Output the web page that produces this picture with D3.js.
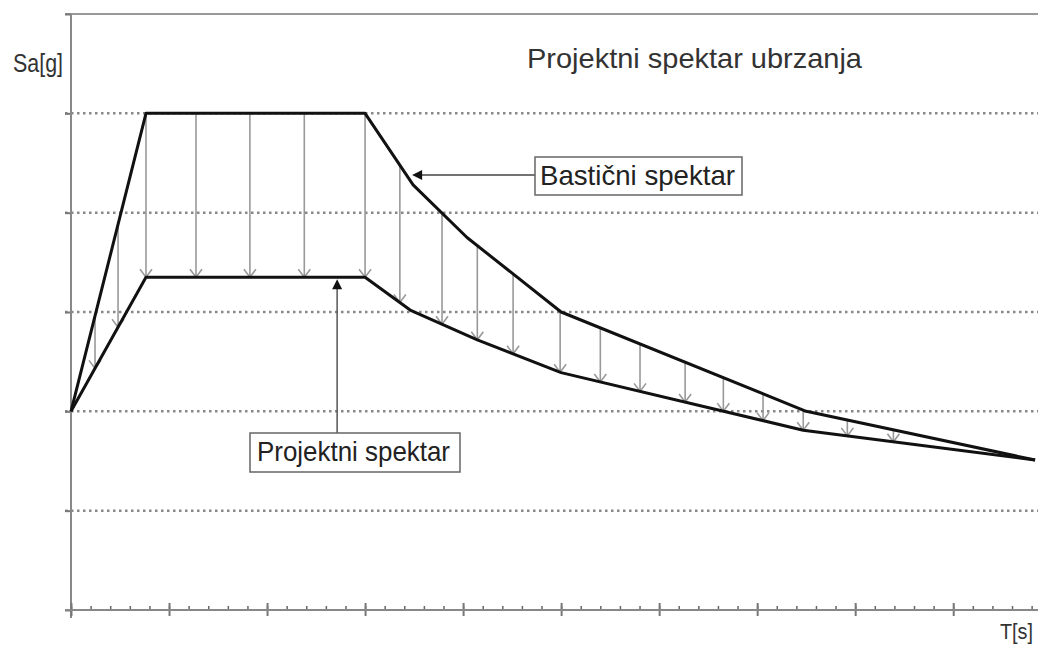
<!DOCTYPE html>
<html>
<head>
<meta charset="utf-8">
<script src="https://cdn.jsdelivr.net/npm/d3@7"></script>
<style>
  body { margin: 0; background: #fff; }
  svg { display: block; font-family: "Liberation Sans", Arial, sans-serif; }
</style>
</head>
<body>
<div id="chart"></div>
<script>
// T [s], Sa [g]
const elasticT  = [0, 0.153, 0.6, 0.698, 0.808, 1.0, 1.5, 1.967];
const elasticSa = [2.0, 5.0, 5.0, 4.28, 3.75, 3.0, 2.0, 1.51];

const designT  = [0, 0.153, 0.6, 0.692, 0.829, 1.0, 1.494, 1.967];
const designSa = [2.0, 3.35, 3.35, 3.02, 2.72, 2.39, 1.81, 1.51];

// where the reduction arrows stand
const arrowT = [0.049, 0.096, 0.153, 0.255, 0.365, 0.476, 0.6, 0.671, 0.757, 0.829,
                0.902, 0.998, 1.08, 1.161, 1.253, 1.331, 1.412, 1.494, 1.584, 1.678];

const gridSa = [1, 2, 3, 4, 5];
const ySa = [0, 1, 2, 3, 4, 5, 6];

const titleText = "Projektni spektar ubrzanja";
const yLabel = "Sa[g]";
const xLabel = "T[s]";
const elasticLabel = "Bastični spektar";
const designLabel = "Projektni spektar";

let width = 1038;
let height = 646;

const svg = d3.select("#chart").append("svg").attr("width", width).attr("height", height);

let x = d3.scaleLinear().domain([0, 1.973]).range([71, 1038]);
let y = d3.scaleLinear().domain([0, 6]).range([610, 14]);

let elastic = elasticT.map((t, i) => [t, elasticSa[i]]);
let design = designT.map((t, i) => [t, designSa[i]]);

// linear lookup along a read curve
function valueAt(pts, t) {
  let i = d3.bisector(d => d[0]).right(pts, t);
  if (i <= 0) return pts[0][1];
  if (i >= pts.length) return pts[pts.length - 1][1];
  let a = pts[i - 1], b = pts[i];
  return a[1] + (b[1] - a[1]) * (t - a[0]) / (b[0] - a[0]);
}

// top frame line
svg.append("line")
  .attr("x1", 65).attr("x2", width)
  .attr("y1", y(6)).attr("y2", y(6))
  .style("stroke", "#999").style("stroke-width", 2);

// dotted grid
svg.append("g").selectAll("line").data(gridSa).join("line")
  .attr("x1", 65).attr("x2", width)
  .attr("y1", d => y(d)).attr("y2", d => y(d))
  .style("stroke", "#888").style("stroke-width", 2.5)
  .style("stroke-dasharray", "2.5,3.5");

// y axis
let yAxis = svg.append("g").attr("transform", "translate(" + x(0) + ",0)")
  .call(d3.axisLeft(y).tickValues(ySa).tickSize(6).tickFormat(""));
yAxis.select(".domain").remove();
yAxis.selectAll(".tick line").style("stroke", "#777").style("stroke-width", 2);
svg.append("line")
  .attr("x1", x(0)).attr("x2", x(0))
  .attr("y1", y(6)).attr("y2", 618)
  .style("stroke", "#888").style("stroke-width", 2);

// x axis: minor and major ticks
let minorT = d3.range(0, 1.97, 0.04);
let majorT = d3.range(0, 1.97, 0.2);
let xMinor = svg.append("g").attr("transform", "translate(0," + y(0) + ")")
  .call(d3.axisTop(x).tickValues(minorT).tickSize(4).tickSizeOuter(0).tickFormat(""));
xMinor.select(".domain").remove();
xMinor.selectAll(".tick line").style("stroke", "#666").style("stroke-width", 1.5);
let xMajor = svg.append("g").attr("transform", "translate(0," + (y(0) + 6) + ")")
  .call(d3.axisTop(x).tickValues(majorT).tickSize(13).tickSizeOuter(0).tickFormat(""));
xMajor.select(".domain").remove();
xMajor.selectAll(".tick line").style("stroke", "#777").style("stroke-width", 2);
svg.append("line")
  .attr("x1", 65).attr("x2", width)
  .attr("y1", y(0)).attr("y2", y(0))
  .style("stroke", "#888").style("stroke-width", 2);

// reduction arrows
let arrows = svg.append("g");
arrowT.forEach(t => {
  let px = x(t);
  let y0 = y(valueAt(elastic, t));
  let y1 = y(valueAt(design, t));
  arrows.append("line")
    .attr("x1", px).attr("x2", px).attr("y1", y0).attr("y2", y1)
    .style("stroke", "#999").style("stroke-width", 1.6);
  arrows.append("path")
    .attr("d", d3.line()([[px - 6, y1 - 8], [px, y1], [px + 6, y1 - 8]]))
    .style("fill", "none").style("stroke", "#999").style("stroke-width", 1.6);
});

// spectra
let lineGenerator = d3.line().x(d => x(d[0])).y(d => y(d[1]));
svg.append("path").attr("d", lineGenerator(elastic))
  .style("fill", "none").style("stroke", "#111").style("stroke-width", 3)
  .style("stroke-linejoin", "round");
svg.append("path").attr("d", lineGenerator(design))
  .style("fill", "none").style("stroke", "#111").style("stroke-width", 3)
  .style("stroke-linejoin", "round");

// callout for elastic spectrum
let eTip = [x(0.696), y(4.38)];
svg.append("line")
  .attr("x1", eTip[0] + 8).attr("x2", 535)
  .attr("y1", eTip[1]).attr("y2", eTip[1])
  .style("stroke", "#444").style("stroke-width", 1.5);
svg.append("path")
  .attr("d", d3.line()([[eTip[0], eTip[1]], [eTip[0] + 10, eTip[1] - 5], [eTip[0] + 10, eTip[1] + 5]]) + "Z")
  .style("fill", "#111");
svg.append("rect").attr("x", 535).attr("y", 157).attr("width", 207).attr("height", 38)
  .style("fill", "#fff").style("stroke", "#666").style("stroke-width", 1.5);
svg.append("text").attr("x", 540).attr("y", 185)
  .attr("textLength", 195).attr("lengthAdjust", "spacingAndGlyphs")
  .style("font-size", "28px").style("fill", "#222").text(elasticLabel);

// callout for design spectrum
let dTip = [x(0.543), y(3.35) + 2];
svg.append("line")
  .attr("x1", dTip[0]).attr("x2", dTip[0])
  .attr("y1", dTip[1] + 8).attr("y2", 433)
  .style("stroke", "#555").style("stroke-width", 1.5);
svg.append("path")
  .attr("d", d3.line()([[dTip[0], dTip[1]], [dTip[0] - 5, dTip[1] + 10], [dTip[0] + 5, dTip[1] + 10]]) + "Z")
  .style("fill", "#111");
svg.append("rect").attr("x", 250).attr("y", 433).attr("width", 210).attr("height", 39)
  .style("fill", "#fff").style("stroke", "#666").style("stroke-width", 1.5);
svg.append("text").attr("x", 257).attr("y", 461)
  .attr("textLength", 193).attr("lengthAdjust", "spacingAndGlyphs")
  .style("font-size", "28px").style("fill", "#222").text(designLabel);

// titles
svg.append("text").attr("x", 527).attr("y", 68)
  .attr("textLength", 335).attr("lengthAdjust", "spacingAndGlyphs")
  .style("font-size", "28px").style("fill", "#333").text(titleText);
svg.append("text").attr("x", 13).attr("y", 72)
  .attr("textLength", 50).attr("lengthAdjust", "spacingAndGlyphs")
  .style("font-size", "25px").style("fill", "#333").text(yLabel);
svg.append("text").attr("x", 1000).attr("y", 639)
  .attr("textLength", 33).attr("lengthAdjust", "spacingAndGlyphs")
  .style("font-size", "22px").style("fill", "#333").text(xLabel);
</script>
</body>
</html>
